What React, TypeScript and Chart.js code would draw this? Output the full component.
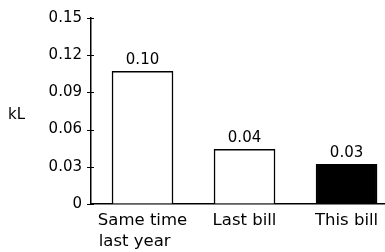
import React, { useEffect, useRef } from "react";
import { Chart, registerables } from "chart.js";

Chart.register(...registerables);

const categories: (string | string[])[] = [["Same time", "last year   "], "Last bill", "This bill"];
const values = [0.107, 0.044, 0.032];
const valueLabels = ["0.10", "0.04", "0.03"];
const fillColors = ["#ffffff", "#ffffff", "#000000"];
const yTicks = [0, 0.03, 0.06, 0.09, 0.12, 0.15];
const yTitle = "kL";

const FONT = "'DejaVu Sans', sans-serif";

export default function App() {
  const ref = useRef<HTMLCanvasElement | null>(null);

  useEffect(() => {
    document.body.style.margin = "0";
    const canvas = ref.current;
    if (!canvas) return;

    const labelPlugin = {
      id: "valueLabels",
      afterDatasetsDraw(chart: any) {
        const ctx = chart.ctx;
        const meta = chart.getDatasetMeta(0);
        ctx.save();
        ctx.fillStyle = "#000";
        ctx.font = `15px ${FONT}`;
        ctx.textAlign = "center";
        ctx.textBaseline = "alphabetic";
        meta.data.forEach((bar: any, i: number) => {
          ctx.fillText(valueLabels[i], bar.x, bar.y - 7);
        });
        ctx.restore();
      },
      afterDraw(chart: any) {
        const ctx = chart.ctx;
        const area = chart.chartArea;
        const yScale = chart.scales.y;
        ctx.save();
        // y tick marks crossing the axis
        ctx.strokeStyle = "#000";
        ctx.lineWidth = 1;
        yScale.ticks.forEach((t: any) => {
          const py = Math.round(yScale.getPixelForValue(t.value)) + 0.5;
          ctx.beginPath();
          ctx.moveTo(area.left - 4, py);
          ctx.lineTo(area.left + 3, py);
          ctx.stroke();
        });
        ctx.fillStyle = "#000";
        ctx.font = `15px ${FONT}`;
        ctx.textAlign = "left";
        ctx.textBaseline = "middle";
        ctx.fillText(yTitle, 8, (area.top + area.bottom) / 2 + 4);
        ctx.restore();
      },
    };

    const chart = new Chart(canvas, {
      type: "bar",
      data: {
        datasets: [
          {
            data: values.map((v, i) => ({ x: i, y: v })),
            backgroundColor: fillColors,
            borderColor: "#000",
            borderWidth: 1.5,
            barThickness: 61,
          },
        ],
      },
      options: {
        responsive: false,
        animation: false,
        layout: { padding: { top: 16, left: 0, right: 0, bottom: 0 } },
        plugins: {
          legend: { display: false },
          tooltip: { enabled: false },
        },
        scales: {
          x: {
            type: "linear",
            offset: false,
            bounds: "ticks",
            min: -0.505,
            max: 2.377,
            grid: { drawOnChartArea: false, drawTicks: false, offset: false },
            border: { display: true, color: "#000", width: 1.5 },
            afterBuildTicks: (scale: any) => {
              scale.ticks = categories.map((_, i) => ({ value: i }));
            },
            afterFit: (scale: any) => {
              scale.height = 48;
            },
            ticks: {
              autoSkip: false,
              maxRotation: 0,
              padding: 6,
              color: "#000",
              font: { family: FONT, size: 16.5, lineHeight: 1.27 },
              callback: (v: any) => categories[Math.round(Number(v))] as any,
            },
          },
          y: {
            min: 0,
            max: 0.15,
            afterBuildTicks: (scale: any) => {
              scale.ticks = yTicks.map((v) => ({ value: v }));
            },
            afterFit: (scale: any) => {
              scale.width = 91;
            },
            grid: {
              drawOnChartArea: false,
              drawTicks: false,
            },
            border: { display: true, color: "#000", width: 1.5 },
            ticks: {
              padding: 9,
              color: "#000",
              font: { family: FONT, size: 15 },
              callback: (v: any) => (Number(v) === 0 ? "0" : Number(v).toFixed(2)),
            },
          },
        },
      },
      plugins: [labelPlugin],
    } as any);

    return () => chart.destroy();
  }, []);

  return (
    <div style={{ position: "absolute", left: 0, top: 0, width: 385, height: 252, background: "#fff" }}>
      <canvas ref={ref} width={385} height={252} />
    </div>
  );
}
